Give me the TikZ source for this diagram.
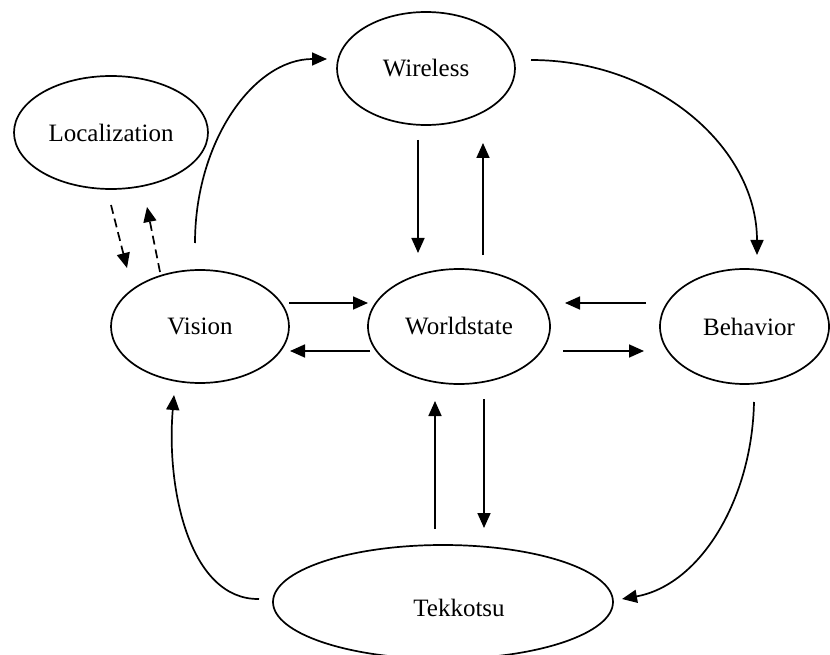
\documentclass[tikz,border=0pt]{standalone}
\usepackage{fontspec}
\setmainfont{Liberation Serif}
\usetikzlibrary{shapes.geometric,arrows.meta,calc}

\tikzset{
  module/.style={ellipse, draw, line width=1.7pt, inner sep=0pt,
    font=\fontsize{25}{29}\selectfont},
  flow/.style={-{Triangle[length=15pt,width=13pt]}, line width=1.7pt},
  aux/.style={flow, dash pattern=on 9pt off 5pt},
}

\begin{document}
\begin{tikzpicture}[x=1pt, y=-1pt]
  \useasboundingbox (0,0) rectangle (830,655);

  % modules
  \node[module, minimum width=178pt, minimum height=113pt] (wl)  at (426,68.5)  {Wireless};
  \node[module, minimum width=194pt, minimum height=113pt] (loc) at (111,132.5) {Localization};
  \node[module, minimum width=178pt, minimum height=113pt] (vis) at (200,326.5) {Vision};
  \node[module, minimum width=182pt, minimum height=115pt] (ws)  at (459,326.5) {Worldstate};
  \node[module, minimum width=169pt, minimum height=115pt] (beh) at (744.5,326.5) {\hspace*{9pt}Behavior};
  \node[module, minimum width=340pt, minimum height=114pt] (tek) at (443,602) {\hspace*{32pt}Tekkotsu\rule{0pt}{29pt}};

  % outer loop
  \draw[flow] ($(vis.center)+(-5,-83.5)$) .. controls +(0,-102) and +(-73,0) .. ($(wl.center)+(-99,-9.5)$);
  \draw[flow] ($(wl.center)+(105,-8.5)$) .. controls +(125,0) and +(0,-108) .. ($(beh.center)+(12.5,-71.5)$);
  \draw[flow] ($(beh.center)+(9.5,75.5)$) .. controls +(-2,98) and +(78,-14) .. ($(tek.center)+(179,-3)$);
  \draw[flow] ($(tek.center)+(-184,-3)$) .. controls +(-69,1) and +(-8,95) .. ($(vis.center)+(-26,68.5)$);

  % Wireless <-> Worldstate
  \draw[flow] ($(wl.center)+(-8,71.5)$) -- ($(ws.center)+(-41,-73.5)$);
  \draw[flow] ($(ws.center)+(24,-71.5)$) -- ($(wl.center)+(57,74.5)$);

  % Vision <-> Worldstate
  \draw[flow] ($(vis.center)+(89,-23.5)$) -- ($(ws.center)+(-91,-23.5)$);
  \draw[flow] ($(ws.center)+(-89,24.5)$) -- ($(vis.center)+(90,24.5)$);

  % Behavior <-> Worldstate
  \draw[flow] ($(beh.center)+(-98.5,-23.5)$) -- ($(ws.center)+(106,-23.5)$);
  \draw[flow] ($(ws.center)+(104,24.5)$) -- ($(beh.center)+(-100.5,24.5)$);

  % Tekkotsu <-> Worldstate
  \draw[flow] ($(tek.center)+(-8,-73)$) -- ($(ws.center)+(-24,74.5)$);
  \draw[flow] ($(ws.center)+(25,72.5)$) -- ($(tek.center)+(41,-74)$);

  % Localization <-> Vision
  \draw[aux] ($(loc.center)+(0,72.5)$) -- ($(vis.center)+(-73,-58.5)$);
  \draw[aux] ($(vis.center)+(-40,-54.5)$) -- ($(loc.center)+(36,74.5)$);
\end{tikzpicture}
\end{document}
